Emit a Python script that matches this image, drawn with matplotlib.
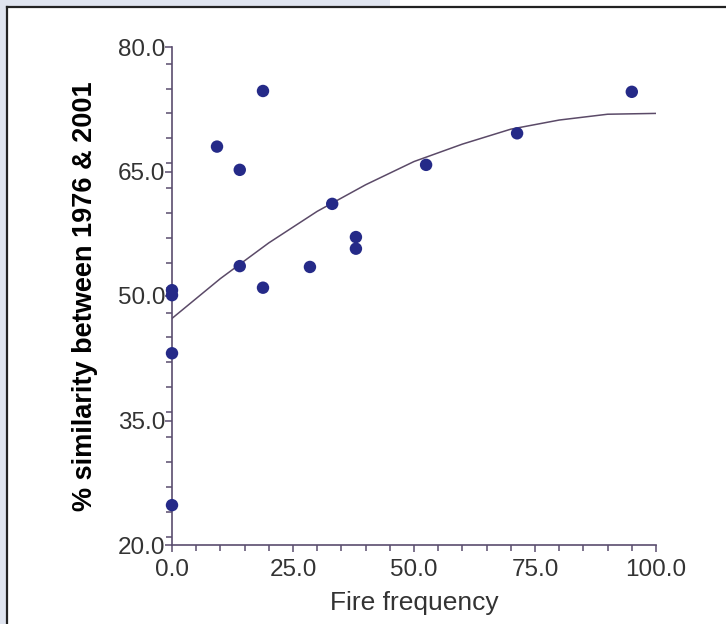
import matplotlib
matplotlib.use('Agg')
import matplotlib.pyplot as plt
from matplotlib.patches import Rectangle
from matplotlib.lines import Line2D
from matplotlib.ticker import MultipleLocator, FormatStrFormatter

# observed sites: fire frequency vs % similarity
fire_freq = [0.0, 0.0, 0.0, 0.0, 9.3, 14.0, 14.0, 18.8, 18.8, 28.5,
             33.1, 38.0, 38.0, 52.5, 71.3, 95.0]
similarity = [50.7, 50.1, 43.1, 24.8, 68.0, 65.2, 53.6, 74.7, 51.0, 53.5,
              61.1, 57.1, 55.7, 65.8, 69.6, 74.6]

# fitted curve
fit_x = [0, 10, 20, 30, 40, 50, 60, 70, 80, 90, 100]
fit_y = [47.3, 52.1, 56.4, 60.2, 63.4, 66.2, 68.3, 70.1, 71.2, 71.9, 72.0]

x_ticks = [0, 25, 50, 75, 100]
y_ticks = [20, 35, 50, 65, 80]

axis_col = '#5a4d6e'
text_col = '#333333'
font = 'Liberation Sans'

fig = plt.figure(figsize=(7.26, 6.24), dpi=100)
fig.patch.set_facecolor('white')

# page background strips and panel border
bg = '#dfe4ef'
fig.add_artist(Rectangle((0, 1 - 6 / 624), 390 / 726, 6 / 624, transform=fig.transFigure,
                         facecolor=bg, edgecolor='none'))
fig.add_artist(Rectangle((0, 0), 6 / 726, 1, transform=fig.transFigure,
                         facecolor=bg, edgecolor='none'))
fig.add_artist(Line2D([6.5 / 726, 1], [1 - 7 / 624, 1 - 7 / 624], transform=fig.transFigure,
                      color='#222222', lw=1.6))
fig.add_artist(Line2D([7 / 726, 7 / 726], [0, 1 - 7 / 624], transform=fig.transFigure,
                      color='#222222', lw=1.6))

ax = fig.add_axes([172 / 726, 1 - 545 / 624, 484 / 726, 498 / 624])
ax.set_facecolor('none')

ax.plot(fit_x, fit_y, color='#5b4a68', lw=1.1, zorder=2)
ax.scatter(fire_freq, similarity, s=80, color='#252a88', edgecolors='none',
           zorder=3, clip_on=False)

ax.set_xlim(0, 100)
ax.set_ylim(20, 80)
ax.set_xticks(x_ticks)
ax.set_yticks(y_ticks)
ax.xaxis.set_minor_locator(MultipleLocator(5))
ax.yaxis.set_minor_locator(MultipleLocator(3))
ax.xaxis.set_major_formatter(FormatStrFormatter('%.1f'))
ax.yaxis.set_major_formatter(FormatStrFormatter('%.1f'))

for side in ['top', 'right']:
    ax.spines[side].set_visible(False)
for side in ['left', 'bottom']:
    ax.spines[side].set_color(axis_col)
    ax.spines[side].set_linewidth(1.2)

ax.tick_params(which='major', length=5, width=1.1, color=axis_col,
               labelsize=17.5, labelcolor=text_col)
ax.tick_params(which='minor', length=4, width=1.1, color=axis_col)
ax.tick_params(axis='y', which='major', pad=0)
ax.tick_params(axis='x', which='major', pad=5)
for lab in ax.get_xticklabels() + ax.get_yticklabels():
    lab.set_family(font)

ax.set_xlabel('Fire frequency', fontsize=19, color=text_col, family=font, labelpad=7)
ax.set_ylabel('% similarity between 1976 & 2001', fontsize=19.5, color='black',
              family=font, fontweight='bold', labelpad=14)

fig.savefig('out.png', dpi=100)
